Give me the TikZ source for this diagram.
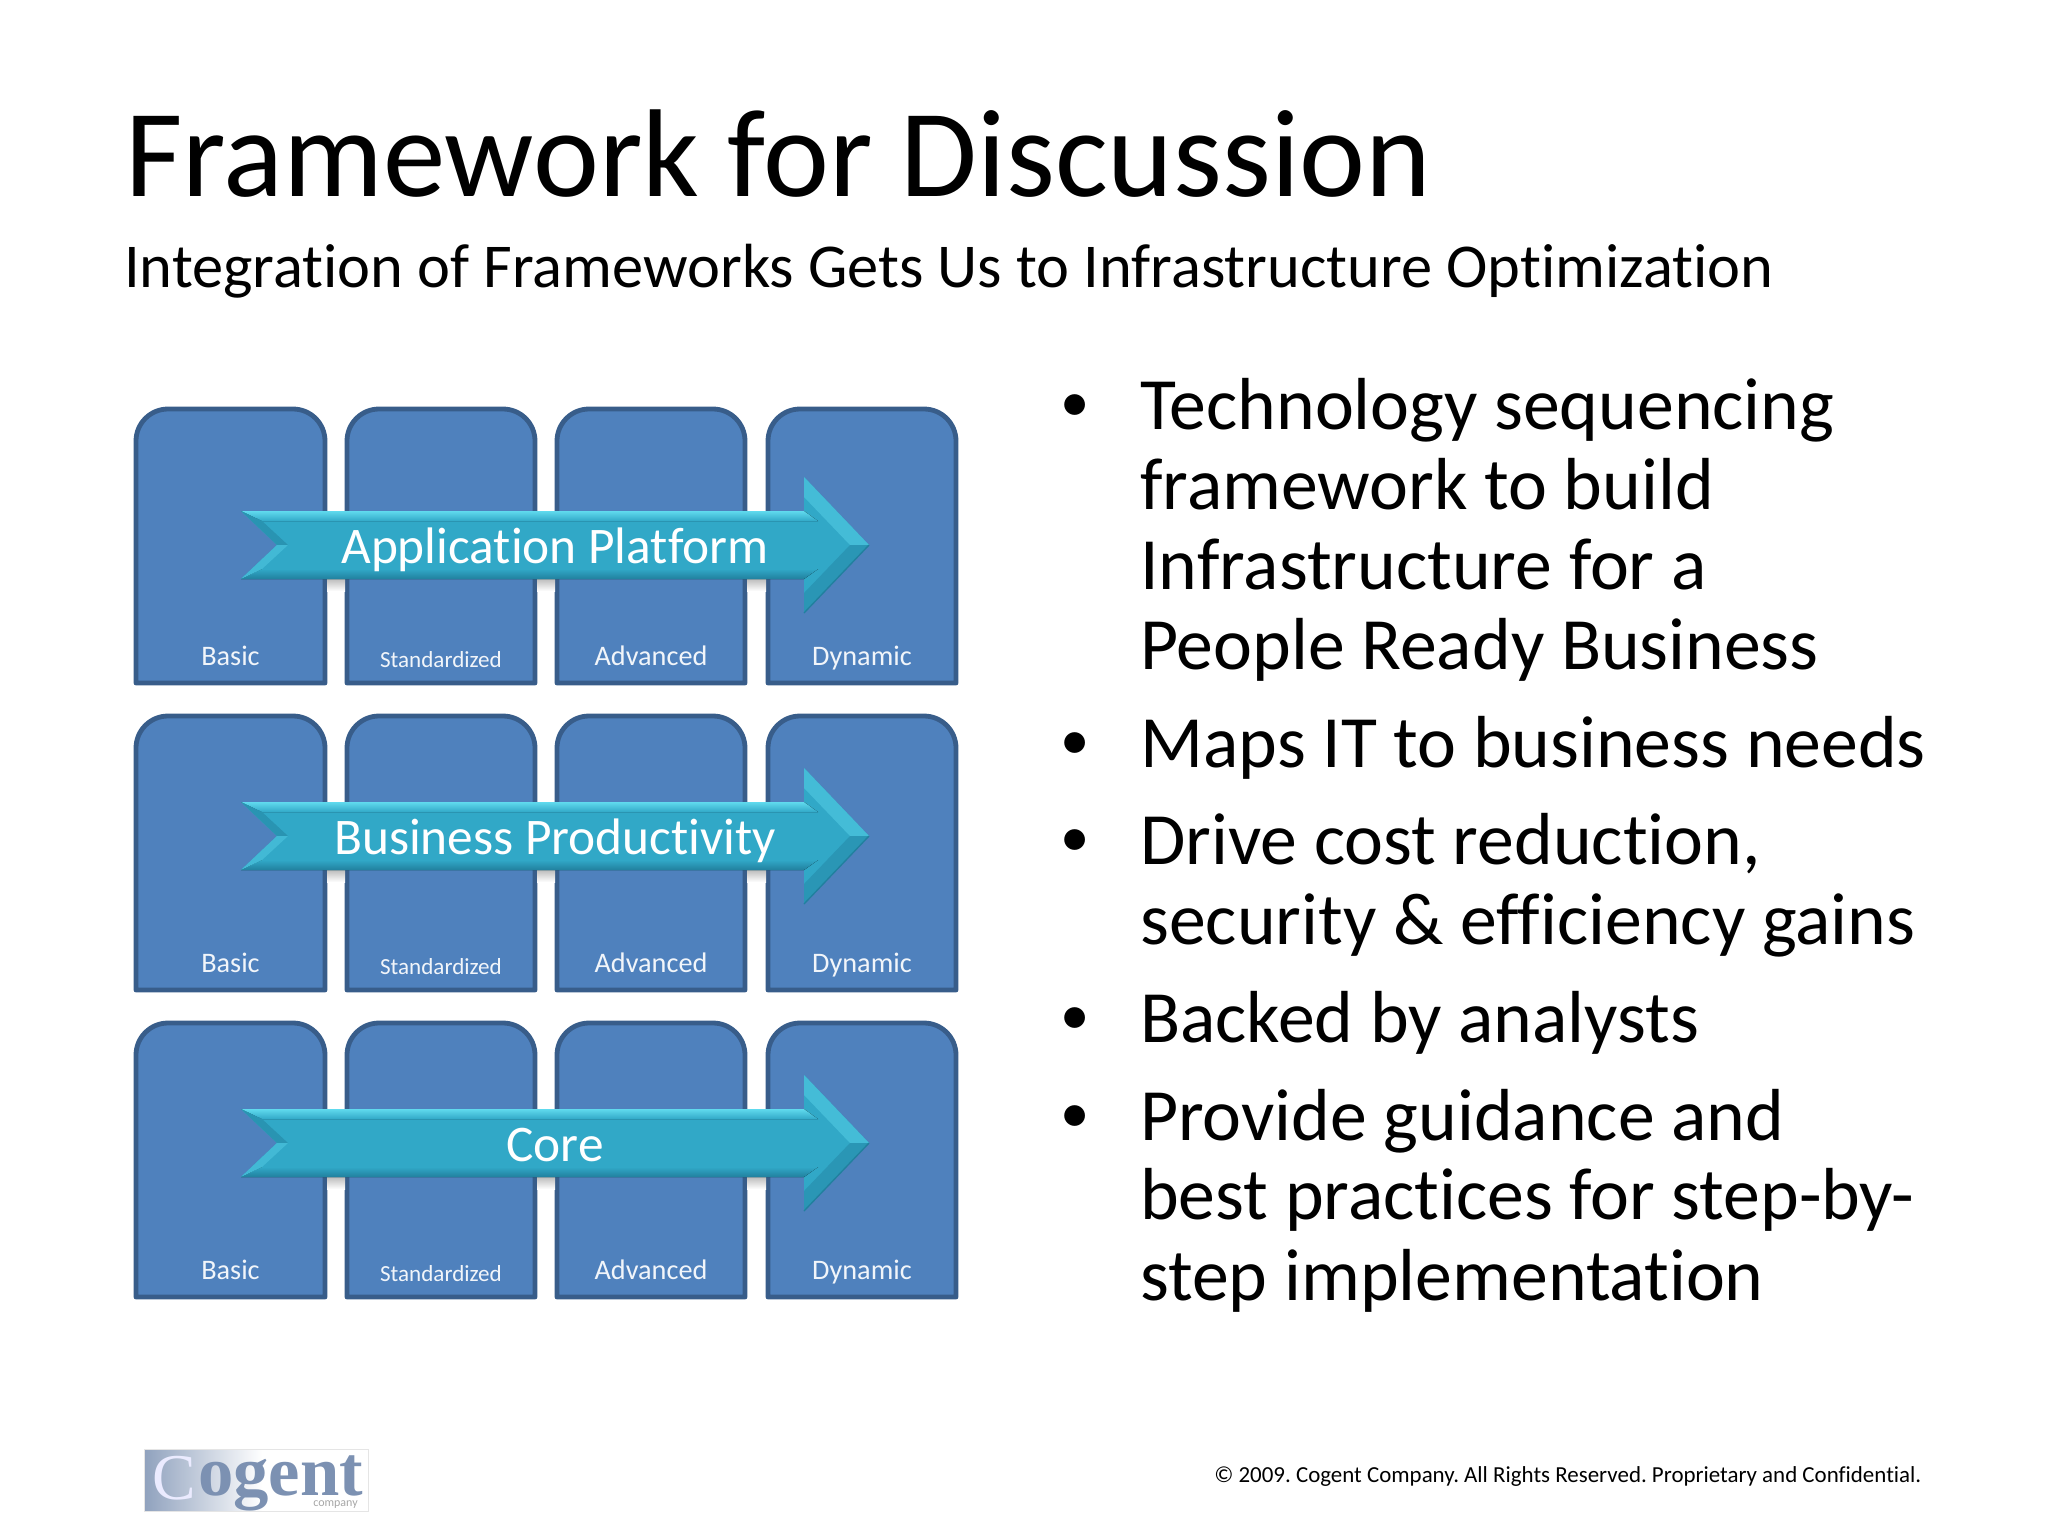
\documentclass[tikz,border=0pt]{standalone}
\usepackage{fontspec}
\setmainfont[Ligatures=NoCommon]{Carlito}
\newfontfamily\logofont{Liberation Serif}
\usepackage{tikz}
\usetikzlibrary{positioning}
\definecolor{boxfill}{RGB}{79,129,189}
\definecolor{boxline}{RGB}{56,93,138}
\definecolor{bandface}{RGB}{49,168,199}
\definecolor{bandlight}{RGB}{96,218,238}
\definecolor{banddark}{RGB}{33,128,158}
\definecolor{logoblue}{RGB}{124,145,178}
\tikzset{
  tierbox/.style={draw=boxline,fill=boxfill,line width=3.6pt,line join=round},
  tierlabel/.style={text=white!92!boxfill,font=\fontsize{21.2}{21.2}\selectfont,anchor=base},
  tiersmall/.style={text=white!92!boxfill,font=\fontsize{17.3}{17.3}\selectfont,anchor=base},
  bandlabel/.style={text=white,anchor=base,inner sep=0pt,font=\fontsize{38.5}{38.5}\selectfont},
  bullettext/.style={anchor=base west,inner sep=0pt,font=\fontsize{55.3}{55.3}\selectfont},
  bulletdot/.style={anchor=base,inner sep=0pt,font=\fontsize{44}{44}\selectfont},
}
\begin{document}
\begin{tikzpicture}[x=0.75pt,y=0.75pt,yscale=-1,xscale=1]
\useasboundingbox (0,0) rectangle (2048,1536);

%Title
\node [anchor=base west,inner sep=0pt,font=\fontsize{93.7}{93.7}\selectfont] (title) at (125,196) {Framework for Discussion};
\node [anchor=base west,inner sep=0pt,font=\fontsize{46.8}{46.8}\selectfont] (subtitle) at (124,287) {Integration of Frameworks Gets Us to Infrastructure Optimization};

%Shape: Tier boxes
\foreach \rowtop/\rowid in {407/a,714/b,1021/c}{
  \foreach \xl/\xr/\colid/\tiername/\tierstyle/\tierdrop in {136/325/1/Basic/tierlabel/258,347/535/2/Standardized/tiersmall/260,557/745/3/Advanced/tierlabel/258,768/956/4/Dynamic/tierlabel/258}{
    \draw [tierbox] (\xl,\rowtop+276) [rounded corners=24pt] -- (\xl,\rowtop+2) -- (\xr,\rowtop+2) [sharp corners] -- (\xr,\rowtop+276) -- cycle ;
    \node [\tierstyle] (tier\rowid\colid) at ({(\xl+\xr)/2},\rowtop+\tierdrop) {\tiername};
  }
}

%Shape: Arrows
\foreach \bandy/\bandname/\bandid in {545/Application Platform/app,836/Business Productivity/biz,1143/Core/core}{
  \begin{scope}[shift={(0,\bandy)}]
    %shadow in the gaps
    \foreach \gapl/\gapr in {327/345,537/555,747/766}{
      \fill [top color=black!28,bottom color=white] (\gapl,33) rectangle (\gapr,46);
    }
    \fill [bandface] (241,-34) -- (277,0) -- (241,34) -- (804,34) -- (804,68) -- (869,0) -- (804,-68) -- (804,-34) -- cycle ;
    %Straight Lines: bevels
    \fill [top color=bandlight,bottom color=bandface] (241,-34) -- (804,-34) -- (818,-24) -- (262,-24) -- cycle ;
    \fill [top color=bandface,bottom color=banddark] (262,24) -- (818,24) -- (804,34) -- (241,34) -- cycle ;
    \fill [banddark!50!bandface] (241,-34) -- (277,0) -- (288,0) -- (262,-24) -- cycle ;
    \fill [bandlight!35!bandface] (241,34) -- (277,0) -- (288,0) -- (262,24) -- cycle ;
    \fill [bandlight!40!bandface] (804,-68) -- (869,0) -- (850,0) -- (804,-48) -- cycle ;
    \fill [banddark!45!bandface] (804,68) -- (869,0) -- (850,0) -- (804,48) -- cycle ;
    \draw [banddark,line width=1pt] (804,68) -- (869,0) ;
    \node [bandlabel] (band\bandid) at (555,18) {\bandname};
  \end{scope}
}

%Bullets
\foreach \liney/\linetext/\lineid in {429/Technology sequencing/a,509/framework to build/b,589/Infrastructure for a/c,669/People Ready Business/d,767/Maps IT to business needs/e,864/{Drive cost reduction,}/f,944/security \& efficiency gains/g,1042/Backed by analysts/h,1140/Provide guidance and/i,1219/best practices for step-by-/j,1300/step implementation/k}{
  \node [bullettext] (line\lineid) at (1140,\liney) {\linetext};
}
\foreach \liney/\dotid in {429/a,767/e,864/f,1042/h,1140/i}{
  \node [bulletdot] (dot\dotid) at (1075,\liney-8) {•};
}

%Footer
\node [anchor=base west,inner sep=0pt,font=\frenchspacing\fontsize{17.2}{17.2}\selectfont] (footer) at (1214,1482) {© 2009. Cogent Company. All Rights Reserved. Proprietary and Confidential.};

%Logo
\fill [left color=logoblue!85,right color=white] (144,1449) rectangle (262,1511);
\draw [draw=black!10] (144,1449) rectangle (368,1511);
\node [anchor=base west,inner sep=0pt,text=blue!8!white,font=\logofont\fontsize{49}{49}\selectfont] (logoc) at (152,1499) {C};
\node [anchor=base west,inner sep=0pt,text=logoblue,font=\logofont\bfseries\fontsize{53}{53}\selectfont] (logotext) at (198,1495) {ogent};
\node [anchor=base east,inner sep=0pt,text=black!35,font=\fontsize{9}{9}\selectfont] (logosub) at (358,1506) {company};
\end{tikzpicture}
\end{document}
